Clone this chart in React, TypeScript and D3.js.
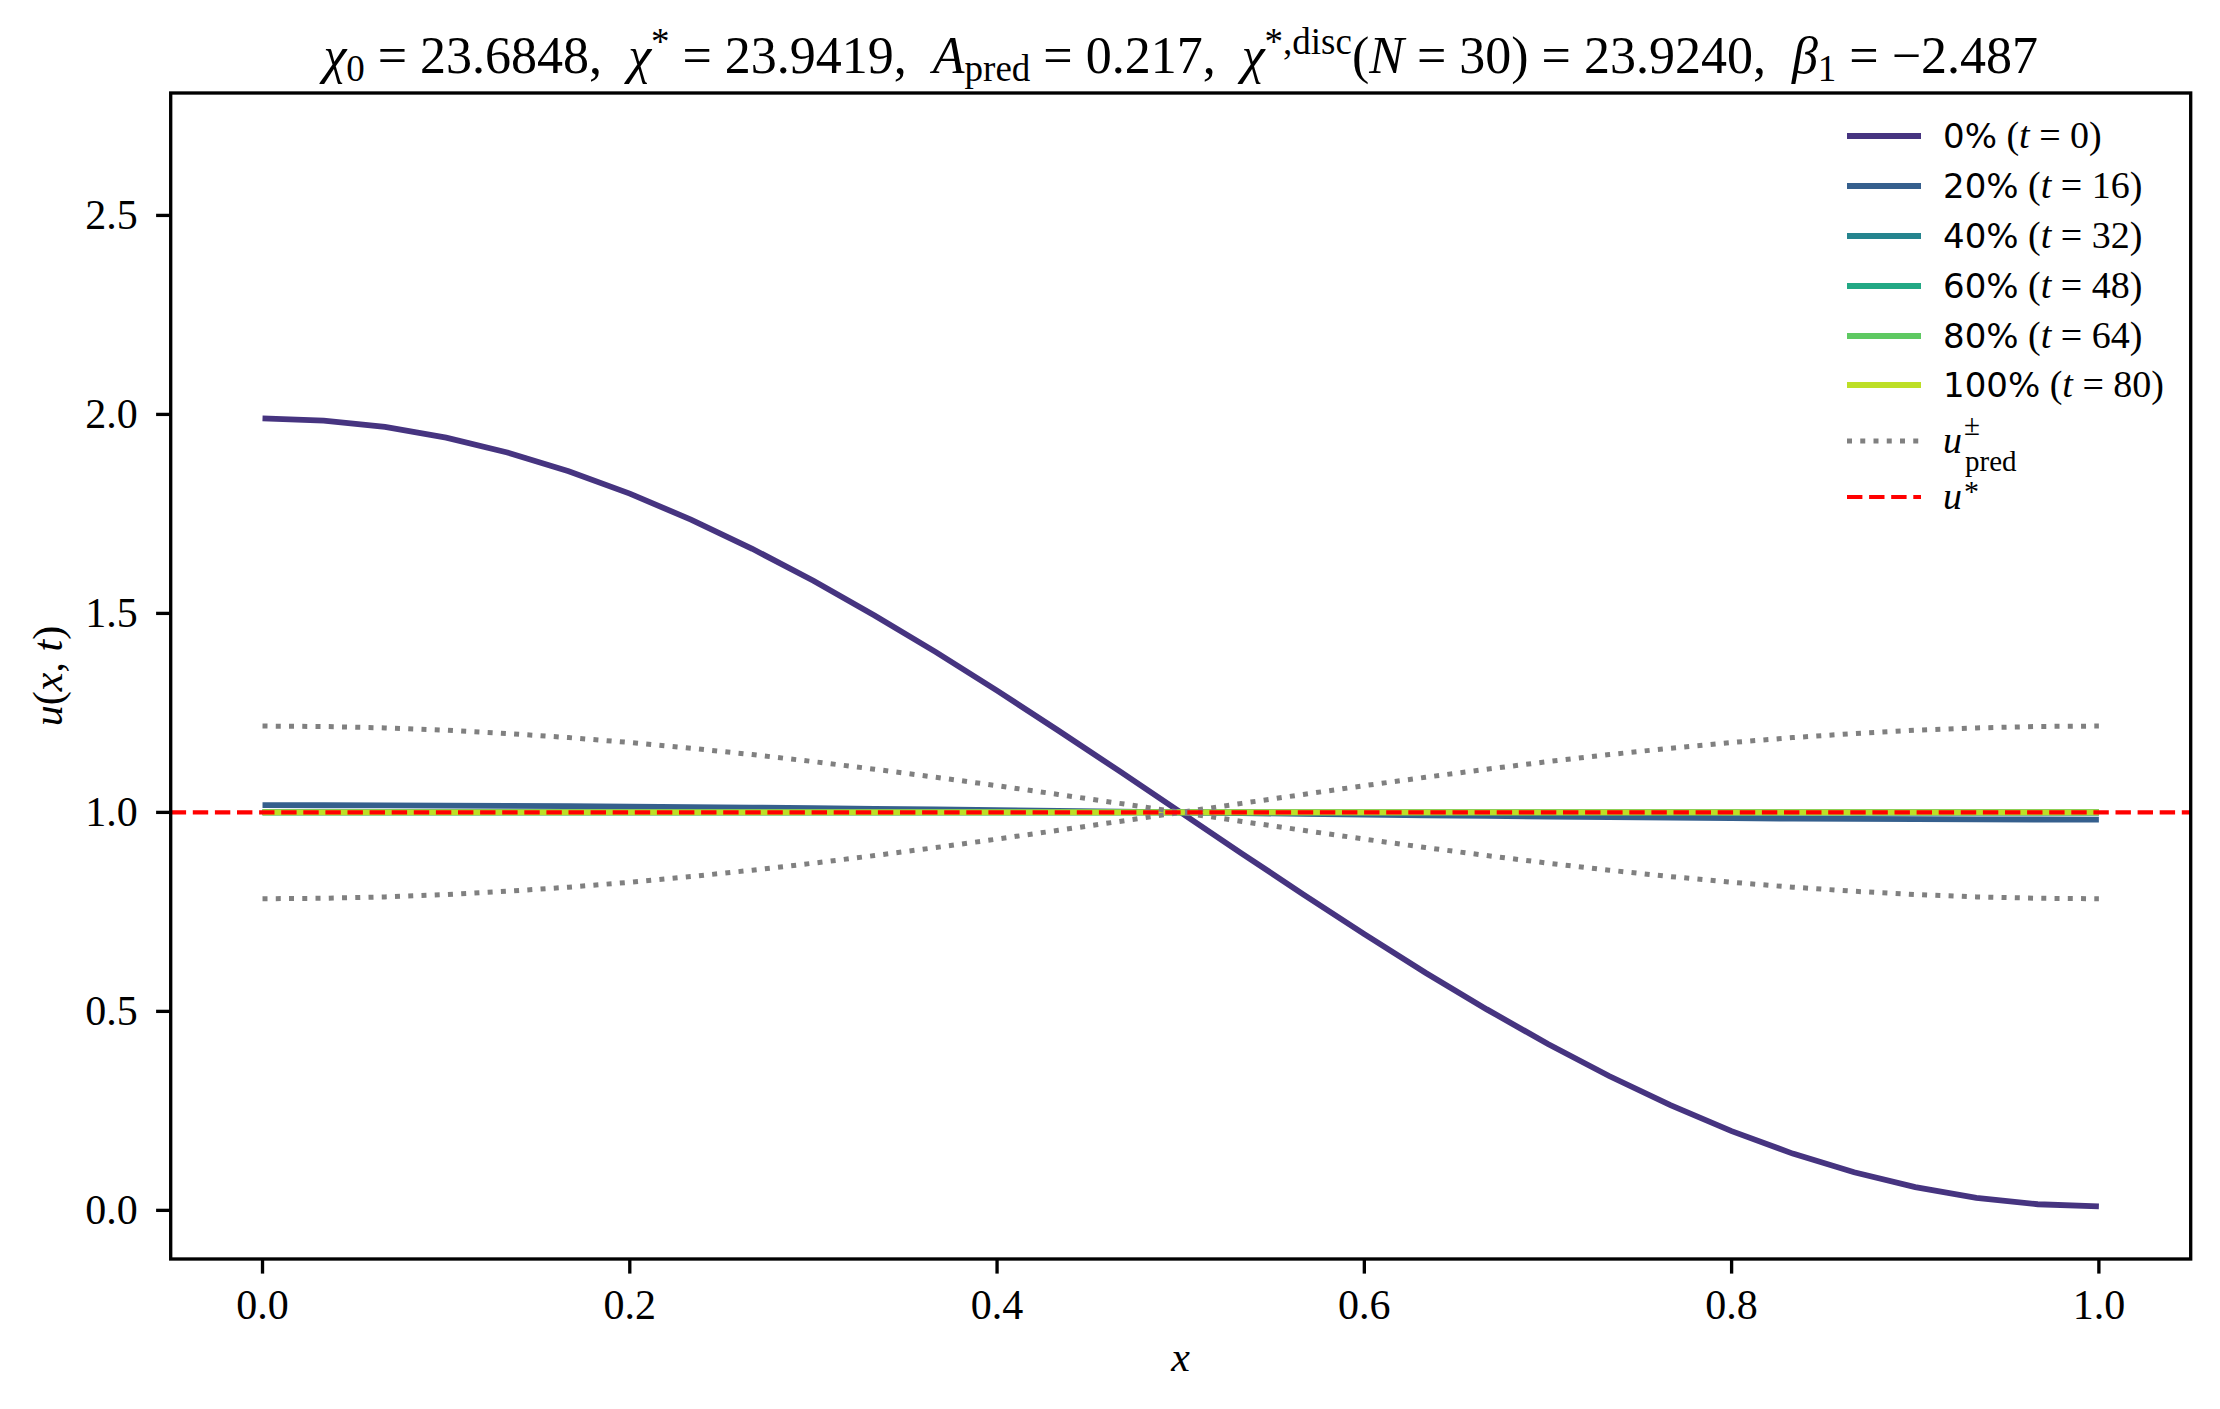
import * as d3 from "d3";

const W = 2220;
const H = 1409;

const xGrid = [
  0, 0.0333, 0.0667, 0.1, 0.1333, 0.1667, 0.2, 0.2333, 0.2667, 0.3, 0.3333, 0.3667, 0.4, 0.4333,
  0.4667, 0.5, 0.5333, 0.5667, 0.6, 0.6333, 0.6667, 0.7, 0.7333, 0.7667, 0.8, 0.8333, 0.8667, 0.9,
  0.9333, 0.9667, 1.0,
];

// snapshots of u(x,t)
const u0 = [
  1.99, 1.9846, 1.9684, 1.9416, 1.9044, 1.8574, 1.8009, 1.7357, 1.6624, 1.5819, 1.495, 1.4027,
  1.3059, 1.2058, 1.1035, 1.0, 0.8965, 0.7942, 0.6941, 0.5973, 0.505, 0.4181, 0.3376, 0.2643, 0.1991,
  0.1426, 0.0956, 0.0584, 0.0316, 0.0154, 0.01,
];
const u20 = [
  1.018, 1.0179, 1.0176, 1.0171, 1.0164, 1.0156, 1.0146, 1.0134, 1.012, 1.0106, 1.009, 1.0073,
  1.0056, 1.0037, 1.0019, 1.0, 0.9981, 0.9963, 0.9944, 0.9927, 0.991, 0.9894, 0.988, 0.9866, 0.9854,
  0.9844, 0.9836, 0.9829, 0.9824, 0.9821, 0.982,
];
const u40 = [
  1.0003, 1.0003, 1.0003, 1.0003, 1.0003, 1.0003, 1.0002, 1.0002, 1.0002, 1.0002, 1.0002, 1.0001,
  1.0001, 1.0001, 1.0, 1.0, 1.0, 0.9999, 0.9999, 0.9999, 0.9998, 0.9998, 0.9998, 0.9998, 0.9998,
  0.9997, 0.9997, 0.9997, 0.9997, 0.9997, 0.9997,
];
const u60 = [
  1, 1, 1, 1, 1, 1, 1, 1, 1, 1, 1, 1, 1, 1, 1, 1, 1, 1, 1, 1, 1, 1, 1, 1, 1, 1, 1, 1, 1, 1, 1,
];
const u80 = [
  1, 1, 1, 1, 1, 1, 1, 1, 1, 1, 1, 1, 1, 1, 1, 1, 1, 1, 1, 1, 1, 1, 1, 1, 1, 1, 1, 1, 1, 1, 1,
];
const u100 = [
  1, 1, 1, 1, 1, 1, 1, 1, 1, 1, 1, 1, 1, 1, 1, 1, 1, 1, 1, 1, 1, 1, 1, 1, 1, 1, 1, 1, 1, 1, 1,
];

const uPredPlus = [
  1.217, 1.2158, 1.2123, 1.2064, 1.1982, 1.1879, 1.1756, 1.1613, 1.1452, 1.1276, 1.1085, 1.0883,
  1.0671, 1.0451, 1.0227, 1.0, 0.9773, 0.9549, 0.9329, 0.9117, 0.8915, 0.8724, 0.8548, 0.8387,
  0.8244, 0.8121, 0.8018, 0.7936, 0.7877, 0.7842, 0.783,
];
const uPredMinus = [
  0.783, 0.7842, 0.7877, 0.7936, 0.8018, 0.8121, 0.8244, 0.8387, 0.8548, 0.8724, 0.8915, 0.9117,
  0.9329, 0.9549, 0.9773, 1.0, 1.0227, 1.0451, 1.0671, 1.0883, 1.1085, 1.1276, 1.1452, 1.1613,
  1.1756, 1.1879, 1.1982, 1.2064, 1.2123, 1.2158, 1.217,
];
const uStar = 1.0;

const snapshots = [u0, u20, u40, u60, u80, u100];
const pctLabels = ["0%", "20%", "40%", "60%", "80%", "100%"];
const tLabels = ["0", "16", "32", "48", "64", "80"];
const viridisPos = [0.15, 0.3, 0.45, 0.6, 0.75, 0.9];

const xTicks = [0, 0.2, 0.4, 0.6, 0.8, 1.0];
const yTicks = [0, 0.5, 1.0, 1.5, 2.0, 2.5];

const SERIF = "'Liberation Serif', 'DejaVu Serif', serif";
const SANS = "'DejaVu Sans', sans-serif";
const EQ = "\u2005=\u2005";
const SEP = ",\u2002";

export default function App() {
  const margin = { left: 170.7, right: W - 2190.7, top: 93, bottom: H - 1259 };
  const innerW = W - margin.left - margin.right;
  const innerH = H - margin.top - margin.bottom;

  const x = d3.scaleLinear().domain([-0.05, 1.05]).range([0, innerW]);
  const y = d3.scaleLinear().domain([-0.1222, 2.8076]).range([innerH, 0]);

  const line = d3
    .line<number>()
    .x((_, i) => x(xGrid[i]))
    .y((d) => y(d));

  const colors = viridisPos.map((v) => d3.interpolateViridis(v));
  const LW = 5.8;

  const legendX = 1847;
  const legendRows = [136, 186, 236, 286, 336, 385, 441, 497];

  return (
    <svg
      width={W}
      height={H}
      style={{ position: "absolute", left: 0, top: 0, background: "#fff" }}
    >
      <rect width={W} height={H} fill="#fff" />

      {/* Title */}
      <text x={margin.left + innerW / 2} y={73} textAnchor="middle" fontFamily={SERIF} fontSize={52}>
        <tspan fontStyle="italic">χ</tspan>
        <tspan fontSize={37} dy={8}>0</tspan>
        <tspan dy={-8}>{`${EQ}23.6848${SEP}`}</tspan>
        <tspan fontStyle="italic">χ</tspan>
        <tspan fontSize={37} dy={-19}>*</tspan>
        <tspan dy={19}>{`${EQ}23.9419${SEP}`}</tspan>
        <tspan fontStyle="italic">A</tspan>
        <tspan fontSize={37} dy={8}>pred</tspan>
        <tspan dy={-8}>{`${EQ}0.217${SEP}`}</tspan>
        <tspan fontStyle="italic">χ</tspan>
        <tspan fontSize={37} dy={-19}>*,disc</tspan>
        <tspan dy={19}>(</tspan>
        <tspan fontStyle="italic">N</tspan>
        <tspan>{`${EQ}30)${EQ}23.9240${SEP}`}</tspan>
        <tspan fontStyle="italic">β</tspan>
        <tspan fontSize={37} dy={8}>1</tspan>
        <tspan dy={-8}>{`${EQ}−2.487`}</tspan>
      </text>

      <g transform={`translate(${margin.left},${margin.top})`}>
        <defs>
          <clipPath id="plotArea">
            <rect width={innerW} height={innerH} />
          </clipPath>
        </defs>

        <g clipPath="url(#plotArea)">
          {snapshots.map((s, k) => (
            <path key={k} d={line(s) ?? ""} fill="none" stroke={colors[k]} strokeWidth={LW} />
          ))}
          {[uPredPlus, uPredMinus].map((s, k) => (
            <path
              key={`p${k}`}
              d={line(s) ?? ""}
              fill="none"
              stroke="#808080"
              strokeWidth={5}
              strokeDasharray="5 8.25"
            />
          ))}
          <line
            x1={0}
            x2={innerW}
            y1={y(uStar)}
            y2={y(uStar)}
            stroke="#ff0000"
            strokeWidth={4.17}
            strokeDasharray="15.4 6.7"
          />
        </g>

        {/* frame */}
        <rect width={innerW} height={innerH} fill="none" stroke="#000" strokeWidth={3.33} />

        {/* x axis */}
        {xTicks.map((t) => (
          <g key={t} transform={`translate(${x(t)},${innerH})`}>
            <line y2={14.6} stroke="#000" strokeWidth={3.33} />
            <text y={60} textAnchor="middle" fontFamily={SERIF} fontSize={42}>
              {t.toFixed(1)}
            </text>
          </g>
        ))}
        <text
          x={innerW / 2}
          y={1371 - margin.top}
          textAnchor="middle"
          fontFamily={SERIF}
          fontStyle="italic"
          fontSize={42}
        >
          x
        </text>

        {/* y axis */}
        {yTicks.map((t) => (
          <g key={t} transform={`translate(0,${y(t)})`}>
            <line x2={-14.6} stroke="#000" strokeWidth={3.33} />
            <text x={-33} dy={14} textAnchor="end" fontFamily={SERIF} fontSize={42}>
              {t.toFixed(1)}
            </text>
          </g>
        ))}
        <text
          transform={`translate(${62 - margin.left},${innerH / 2}) rotate(-90)`}
          textAnchor="middle"
          fontFamily={SERIF}
          fontSize={42}
        >
          <tspan fontStyle="italic">u</tspan>
          <tspan>(</tspan>
          <tspan fontStyle="italic">x</tspan>
          <tspan>, </tspan>
          <tspan fontStyle="italic">t</tspan>
          <tspan>)</tspan>
        </text>
      </g>

      {/* Legend */}
      <g>
        {pctLabels.map((p, k) => (
          <g key={p} transform={`translate(0,${legendRows[k]})`}>
            <line x1={legendX} x2={legendX + 74} stroke={colors[k]} strokeWidth={LW} />
            <text x={1943} y={12} fontSize={34}>
              <tspan fontFamily={SANS}>{p}</tspan>
              <tspan fontFamily={SERIF} fontSize={38}>
                {"\u00a0("}
              </tspan>
              <tspan fontFamily={SERIF} fontSize={38} fontStyle="italic">
                t
              </tspan>
              <tspan fontFamily={SERIF} fontSize={38}>
                {`${EQ}${tLabels[k]})`}
              </tspan>
            </text>
          </g>
        ))}
        <g transform={`translate(0,${legendRows[6]})`}>
          <line
            x1={legendX}
            x2={legendX + 74}
            stroke="#808080"
            strokeWidth={5}
            strokeDasharray="5 8.25"
          />
          <text x={1943} y={12} fontFamily={SERIF} fontSize={38} fontStyle="italic">
            u
          </text>
          <text x={1964} y={-6} fontFamily={SERIF} fontSize={29}>
            ±
          </text>
          <text x={1965} y={30} fontFamily={SERIF} fontSize={29}>
            pred
          </text>
        </g>
        <g transform={`translate(0,${legendRows[7]})`}>
          <line
            x1={legendX}
            x2={legendX + 74}
            stroke="#ff0000"
            strokeWidth={4.17}
            strokeDasharray="15.4 6.7"
          />
          <text x={1943} y={12} fontFamily={SERIF} fontSize={38} fontStyle="italic">
            u
          </text>
          <text x={1964} y={4} fontFamily={SERIF} fontSize={30}>
            *
          </text>
        </g>
      </g>
    </svg>
  );
}
